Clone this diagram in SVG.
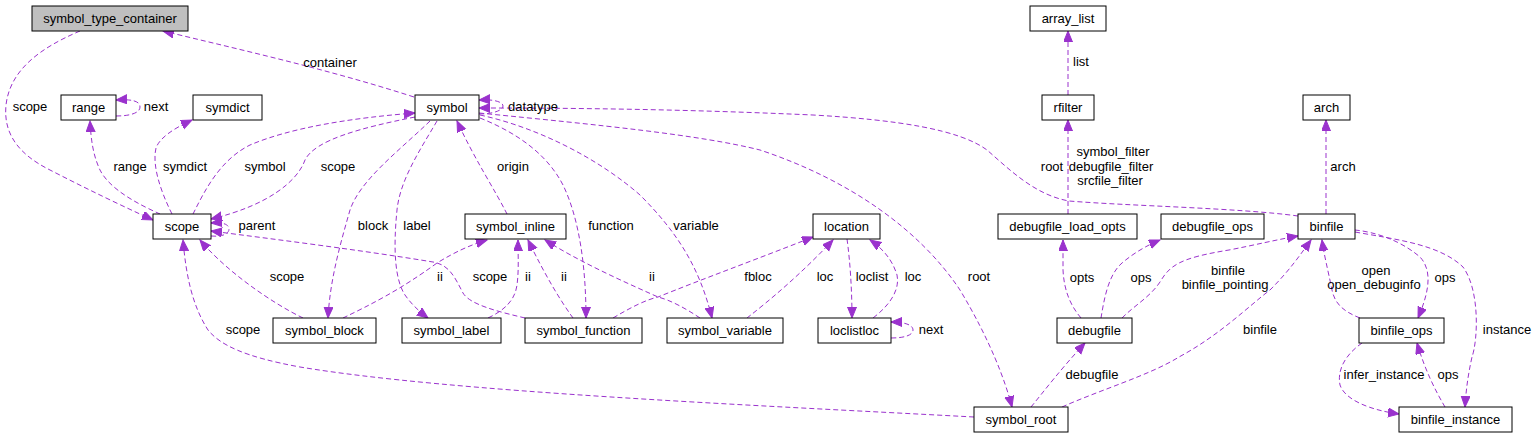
<svg xmlns="http://www.w3.org/2000/svg" width="1534" height="439" viewBox="0 0 1534 439">
<defs>
<marker id="ah" markerUnits="userSpaceOnUse" markerWidth="12" markerHeight="10" refX="11" refY="4.5" orient="auto"><path d="M0,0 L11,4.5 L0,9 z" fill="#9a32cd" stroke="#9a32cd" stroke-width="1"/></marker>
<style>
.n rect{fill:#fff;stroke:#000;stroke-width:1}
.n.root rect{fill:#bfbfbf}
text{font-family:"Liberation Sans",Arial,Helvetica,sans-serif;font-size:13px;fill:#000}
.n text{text-anchor:middle}
.e path{fill:none;stroke:#9a32cd;stroke-width:1;stroke-dasharray:5,3;marker-end:url(#ah)}
.l text{text-anchor:middle}
</style>
</defs>
<rect width="1534" height="439" fill="#fff"/>
<g id="edges" class="e">
<path d="M414,97 C330,70 250,52 163,31"/>
<path d="M80,31 C40,48 10,70 6,105 C3,135 20,155 50,170 C85,188 120,205 153,220"/>
<path d="M116,116 C130,116 140,113 140,107 C140,101 132,99 116,100"/>
<path d="M160,214 C140,205 110,190 100,170 C93,155 91,140 90,121"/>
<path d="M172,214 C160,190 152,165 156,148 C160,137 175,128 192,120"/>
<path d="M193,214 C205,190 220,160 250,145 C290,128 350,118 415,113"/>
<path d="M415,117 C360,128 315,140 305,160 C298,180 270,205 211,219"/>
<path d="M211,236 C222,237 229,234 229,229 C229,224 222,222 211,223"/>
<path d="M303,318 C270,302 225,270 200,240"/>
<path d="M974,417 C750,405 450,392 300,367 C245,357 220,345 208,330 C192,305 186,275 183,240"/>
<path d="M525,318 C500,312 470,305 463,293 C455,278 450,265 433,262 C360,250 280,240 211,231"/>
<path d="M430,121 C400,150 360,180 350,210 C340,245 330,280 328,318"/>
<path d="M437,121 C420,150 400,180 397,210 C393,250 395,280 405,295 C412,305 420,312 428,318"/>
<path d="M507,214 C495,190 475,160 457,121"/>
<path d="M480,118 C510,130 545,150 563,185 C580,220 586,270 586,318"/>
<path d="M480,115 C540,128 600,160 640,195 C680,235 700,270 712,318"/>
<path d="M479,113 C600,125 700,135 760,150 C850,180 920,230 960,290 C990,340 1005,380 1012,407"/>
<path d="M479,114 C494,114 503,110 503,106 C503,102 494,99 479,100"/>
<path d="M343,318 C370,305 400,290 437,263 C455,252 470,245 487,240"/>
<path d="M488,318 C505,310 515,300 517,285 C519,270 518,255 518,240"/>
<path d="M573,318 C560,300 545,275 528,240"/>
<path d="M700,318 C685,308 670,300 658,297 C620,280 580,262 545,240"/>
<path d="M613,318 C630,308 645,300 658,297 C700,280 760,258 813,237"/>
<path d="M747,318 C770,300 800,275 833,240"/>
<path d="M847,239 C850,260 852,290 852,318"/>
<path d="M873,318 C890,305 900,290 897,275 C893,262 885,250 870,240"/>
<path d="M891,338 C905,338 913,335 913,330 C913,325 905,322 891,322"/>
<path d="M1068,95 L1068,31"/>
<path d="M1068,214 L1068,120"/>
<path d="M1326,214 L1326,120"/>
<path d="M1081,318 C1070,305 1064,290 1063,270 L1063,240"/>
<path d="M1101,318 C1104,300 1108,275 1122,263 C1135,252 1148,245 1160,240"/>
<path d="M1122,318 C1135,305 1150,297 1160,282 C1170,265 1180,258 1229,250 C1255,245 1275,240 1298,236"/>
<path d="M1062,407 C1100,390 1150,375 1179,357 C1220,335 1250,305 1270,290 C1290,270 1300,255 1311,240"/>
<path d="M1031,407 C1045,390 1060,370 1085,343"/>
<path d="M1360,318 C1345,312 1335,305 1332,290 C1328,270 1324,255 1322,240"/>
<path d="M1355,230 C1375,232 1400,240 1420,257 C1432,270 1430,290 1418,318"/>
<path d="M1355,232 C1400,240 1440,245 1463,267 C1480,290 1478,340 1472,357 C1468,375 1466,390 1465,407"/>
<path d="M1362,343 C1345,355 1337,370 1340,385 C1345,400 1370,410 1399,414"/>
<path d="M1445,407 C1435,390 1425,370 1417,343"/>
<path d="M1298,216 C1240,208 1130,206 1069,201 C1035,195 1010,170 987,150 C960,130 900,120 813,115 C700,110 600,108 479,108"/>
</g>
<g id="labels" class="l">
<text x="330" y="67">container</text>
<text x="30" y="111">scope</text>
<text x="156" y="111">next</text>
<text x="533" y="111">datatype</text>
<text x="130" y="171">range</text>
<text x="185" y="171">symdict</text>
<text x="265" y="171">symbol</text>
<text x="338" y="171">scope</text>
<text x="513" y="171">origin</text>
<text x="1081" y="66">list</text>
<text x="1113" y="156">symbol_filter</text>
<text x="1111" y="171">debugfile_filter</text>
<text x="1110" y="185">srcfile_filter</text>
<text x="1052" y="171">root</text>
<text x="1343" y="171">arch</text>
<text x="257" y="230">parent</text>
<text x="373" y="230">block</text>
<text x="417" y="230">label</text>
<text x="611" y="230">function</text>
<text x="696" y="230">variable</text>
<text x="287" y="281">scope</text>
<text x="440" y="281">ii</text>
<text x="490" y="281">scope</text>
<text x="528" y="281">ii</text>
<text x="564" y="281">ii</text>
<text x="652" y="281">ii</text>
<text x="758" y="281">fbloc</text>
<text x="825" y="281">loc</text>
<text x="872" y="281">loclist</text>
<text x="913" y="281">loc</text>
<text x="979" y="281">root</text>
<text x="1082" y="282">opts</text>
<text x="1141" y="282">ops</text>
<text x="1228" y="275">binfile</text>
<text x="1225" y="289">binfile_pointing</text>
<text x="1376" y="275">open</text>
<text x="1374" y="289">open_debuginfo</text>
<text x="1445" y="282">ops</text>
<text x="243" y="334">scope</text>
<text x="931" y="334">next</text>
<text x="1260" y="334">binfile</text>
<text x="1507" y="334">instance</text>
<text x="1092" y="379">debugfile</text>
<text x="1384" y="379">infer_instance</text>
<text x="1448" y="379">ops</text>
</g>
<g id="symbol_type_container" class="n root"><rect x="32" y="6" width="156" height="25"/><text x="110" y="23">symbol_type_container</text></g>
<g id="range" class="n"><rect x="61" y="95" width="55" height="25"/><text x="88.5" y="112">range</text></g>
<g id="symdict" class="n"><rect x="193" y="95" width="69" height="25"/><text x="227.5" y="112">symdict</text></g>
<g id="symbol" class="n"><rect x="415" y="95" width="64" height="25"/><text x="447" y="112">symbol</text></g>
<g id="scope" class="n"><rect x="153" y="214" width="58" height="25"/><text x="182" y="231">scope</text></g>
<g id="symbol_inline" class="n"><rect x="465" y="214" width="101" height="25"/><text x="515.5" y="231">symbol_inline</text></g>
<g id="location" class="n"><rect x="813" y="214" width="67" height="25"/><text x="846.5" y="231">location</text></g>
<g id="symbol_block" class="n"><rect x="273" y="318" width="103" height="25"/><text x="324.5" y="335">symbol_block</text></g>
<g id="symbol_label" class="n"><rect x="402" y="318" width="99" height="25"/><text x="451.5" y="335">symbol_label</text></g>
<g id="symbol_function" class="n"><rect x="525" y="318" width="117" height="25"/><text x="583.5" y="335">symbol_function</text></g>
<g id="symbol_variable" class="n"><rect x="667" y="318" width="116" height="25"/><text x="725" y="335">symbol_variable</text></g>
<g id="loclistloc" class="n"><rect x="818" y="318" width="73" height="25"/><text x="854.5" y="335">loclistloc</text></g>
<g id="symbol_root" class="n"><rect x="974" y="407" width="94" height="25"/><text x="1021" y="424">symbol_root</text></g>
<g id="array_list" class="n"><rect x="1030" y="6" width="76" height="25"/><text x="1068" y="23">array_list</text></g>
<g id="rfilter" class="n"><rect x="1042" y="95" width="52" height="25"/><text x="1068" y="112">rfilter</text></g>
<g id="arch" class="n"><rect x="1303" y="95" width="47" height="25"/><text x="1326.5" y="112">arch</text></g>
<g id="debugfile_load_opts" class="n"><rect x="998" y="214" width="139" height="25"/><text x="1067.5" y="231">debugfile_load_opts</text></g>
<g id="debugfile_ops" class="n"><rect x="1161" y="214" width="103" height="25"/><text x="1212.5" y="231">debugfile_ops</text></g>
<g id="binfile" class="n"><rect x="1298" y="214" width="57" height="25"/><text x="1326.5" y="231">binfile</text></g>
<g id="debugfile" class="n"><rect x="1057" y="318" width="75" height="25"/><text x="1094.5" y="335">debugfile</text></g>
<g id="binfile_ops" class="n"><rect x="1359" y="318" width="85" height="25"/><text x="1401.5" y="335">binfile_ops</text></g>
<g id="binfile_instance" class="n"><rect x="1399" y="407" width="113" height="25"/><text x="1455.5" y="424">binfile_instance</text></g>
</svg>
